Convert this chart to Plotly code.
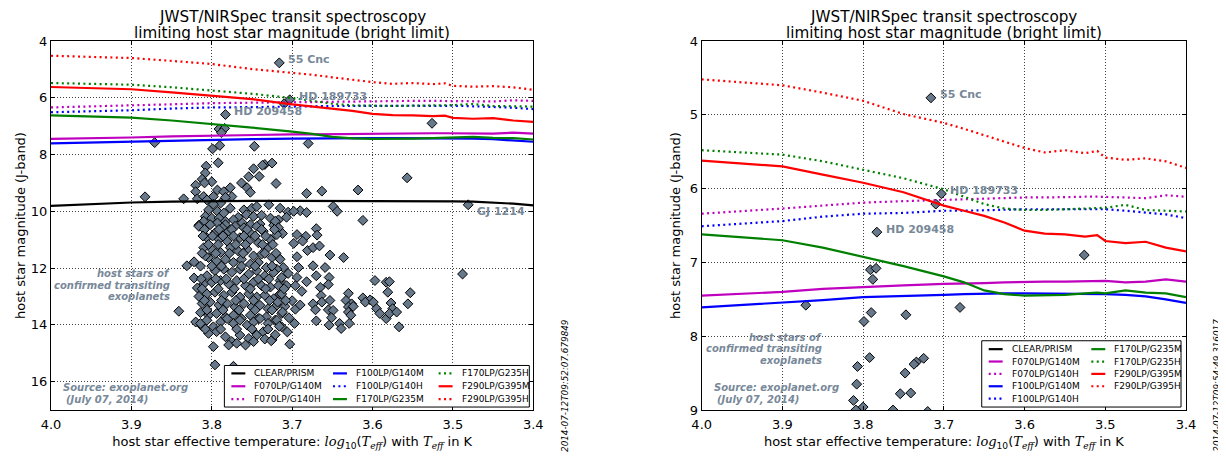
import plotly.graph_objects as go

# ---------------- data ----------------
model_logteff = [4.000, 3.950, 3.900, 3.850, 3.800, 3.750, 3.700, 3.675, 3.650, 3.625,
                 3.600, 3.575, 3.550, 3.525, 3.510, 3.500, 3.475, 3.450, 3.425, 3.400]

clear_prism   = [9.81, 9.75, 9.69, 9.66, 9.64, 9.63, 9.63, 9.63, 9.64, 9.64,
                 9.65, 9.65, 9.65, 9.65, 9.65, 9.65, 9.66, 9.69, 9.73, 9.79]
f070_g140m    = [7.45, 7.43, 7.40, 7.36, 7.33, 7.31, 7.29, 7.29, 7.28, 7.27,
                 7.26, 7.26, 7.26, 7.25, 7.25, 7.25, 7.27, 7.26, 7.23, 7.26]
f070_g140h    = [6.34, 6.31, 6.27, 6.23, 6.19, 6.17, 6.15, 6.14, 6.13, 6.13,
                 6.12, 6.12, 6.11, 6.11, 6.11, 6.11, 6.12, 6.13, 6.09, 6.11]
f100_g140m    = [7.61, 7.58, 7.55, 7.51, 7.47, 7.46, 7.44, 7.43, 7.42, 7.42,
                 7.42, 7.42, 7.42, 7.43, 7.43, 7.43, 7.44, 7.46, 7.50, 7.55]
f100_g140h    = [6.51, 6.48, 6.44, 6.38, 6.34, 6.33, 6.30, 6.30, 6.29, 6.29,
                 6.28, 6.28, 6.28, 6.29, 6.28, 6.28, 6.30, 6.32, 6.35, 6.40]
f170_g235m    = [6.62, 6.66, 6.70, 6.80, 6.92, 7.05, 7.19, 7.27, 7.38, 7.43,
                 7.45, 7.45, 7.44, 7.42, 7.41, 7.42, 7.38, 7.41, 7.42, 7.47]
f170_g235h    = [5.48, 5.51, 5.54, 5.63, 5.74, 5.86, 6.01, 6.11, 6.21, 6.27,
                 6.29, 6.29, 6.28, 6.27, 6.26, 6.26, 6.22, 6.29, 6.30, 6.31]
f290_g395m    = [5.62, 5.66, 5.70, 5.81, 5.92, 6.05, 6.23, 6.30, 6.37, 6.46,
                 6.57, 6.61, 6.62, 6.65, 6.63, 6.71, 6.74, 6.72, 6.80, 6.85]
f290_g395h    = [4.52, 4.56, 4.60, 4.70, 4.81, 4.99, 5.11, 5.19, 5.28, 5.37,
                 5.45, 5.51, 5.48, 5.52, 5.49, 5.58, 5.61, 5.59, 5.63, 5.72]

mode_names = ["CLEAR/PRISM", "F070LP/G140M", "F070LP/G140H", "F100LP/G140M", "F100LP/G140H",
              "F170LP/G235M", "F170LP/G235H", "F290LP/G395M", "F290LP/G395H"]
mode_values = [clear_prism, f070_g140m, f070_g140h, f100_g140m, f100_g140h,
               f170_g235m, f170_g235h, f290_g395m, f290_g395h]

# host stars of confirmed transiting exoplanets (log10 Teff, J magnitude)
star_logteff = [
    3.716, 3.703, 3.710, 3.783, 3.526, 3.871, 3.680,
    3.791, 3.784, 3.788, 3.790, 3.799, 3.747,
    3.792, 3.807, 3.734, 3.737, 3.725, 3.748, 3.808,
    3.754, 3.741, 3.812, 3.800, 3.809, 3.763, 3.720, 3.557,
    3.883, 3.820, 3.820, 3.835, 3.818, 3.793, 3.785, 3.777, 3.775, 3.783, 3.798, 3.810,
    3.806, 3.789, 3.798, 3.777, 3.804, 3.793, 3.785, 3.808, 3.800, 3.791, 3.810, 3.816,
    3.793, 3.783,
    3.756, 3.752, 3.760, 3.750, 3.744, 3.729, 3.715, 3.767, 3.757, 3.748, 3.738, 3.727,
    3.717, 3.762, 3.752, 3.740, 3.723, 3.783, 3.773,
    3.682, 3.663, 3.618, 3.481, 3.705, 3.690, 3.682, 3.698, 3.649, 3.644, 3.612, 3.721,
    3.707, 3.712, 3.670, 3.694, 3.683, 3.669, 3.698, 3.687, 3.681, 3.674, 3.666, 3.653,
    3.636, 3.694, 3.717, 3.711, 3.692, 3.674, 3.659, 3.654, 3.670, 3.682, 3.694, 3.705,
    3.715, 3.707, 3.696, 3.715, 3.688, 3.665, 3.655, 3.664, 3.674, 3.663, 3.653, 3.671,
    3.655, 3.649, 3.670, 3.654, 3.651, 3.630, 3.633, 3.626, 3.630, 3.624, 3.630, 3.627,
    3.641, 3.639, 3.629, 3.612, 3.603, 3.609, 3.597, 3.583, 3.579, 3.581, 3.599, 3.595,
    3.591, 3.583, 3.577, 3.575, 3.579, 3.570, 3.556, 3.553, 3.567, 3.488,
    3.816, 3.802, 3.796, 3.787, 3.779, 3.771, 3.760, 3.752, 3.744, 3.736, 3.727, 3.717,
    3.806, 3.791, 3.781, 3.765, 3.754, 3.742, 3.730, 3.719,
    3.810, 3.800, 3.789, 3.777, 3.767, 3.756, 3.748, 3.738, 3.725, 3.715,
    3.804, 3.794, 3.783, 3.773, 3.763, 3.752, 3.742, 3.732, 3.719, 3.831, 3.822, 3.808,
    3.806, 3.796, 3.785, 3.775, 3.765, 3.754, 3.744, 3.734, 3.723, 3.713,
    3.810, 3.800, 3.789, 3.779, 3.769, 3.758, 3.748, 3.738, 3.727, 3.717,
    3.806, 3.796, 3.785, 3.775, 3.765, 3.754, 3.744, 3.734, 3.723, 3.713,
    3.812, 3.802, 3.791, 3.781, 3.771, 3.760, 3.750, 3.740, 3.730, 3.719,
    3.841, 3.814, 3.804, 3.794, 3.783, 3.773, 3.763, 3.752, 3.742, 3.732, 3.721, 3.713,
    3.822, 3.818, 3.816, 3.820, 3.812,
    3.814, 3.806, 3.798, 3.789, 3.781, 3.773, 3.765, 3.756, 3.748, 3.740, 3.730, 3.719,
    3.713, 3.804, 3.794, 3.783, 3.775, 3.765, 3.754, 3.744, 3.736, 3.725,
    3.798, 3.779, 3.769, 3.758, 3.748, 3.796, 3.773,
    3.734, 3.726, 3.703, 3.718, 3.709, 3.700, 3.712, 3.704, 3.696, 3.716, 3.706, 3.697,
    3.721, 3.690,
    3.809, 3.791, 3.775, 3.756, 3.738, 3.722,
    3.811, 3.799, 3.786, 3.773, 3.760, 3.746, 3.733,
    3.804, 3.792, 3.770, 3.758, 3.737, 3.724,
    3.812, 3.795, 3.778, 3.761, 3.734, 3.720,
    3.814, 3.800, 3.788, 3.763, 3.746, 3.725,
    3.813, 3.795, 3.782, 3.760, 3.742, 3.729,
    3.812, 3.792, 3.772, 3.752, 3.733, 3.710,
    3.809, 3.788, 3.770, 3.748, 3.728, 3.708,
    3.806, 3.786, 3.766, 3.746, 3.725,
    3.808, 3.789, 3.769, 3.750, 3.730,
]
star_jmag = [
    4.77, 6.07, 6.21, 6.59, 6.90, 7.58, 7.61,
    7.10, 7.08, 7.23, 7.68, 7.80, 7.71,
    8.29, 8.41, 8.35, 8.38, 8.30, 8.50, 8.65,
    8.78, 8.77, 8.87, 8.96, 9.00, 9.00, 9.02, 8.82,
    9.49, 9.08, 9.31, 9.56, 9.56, 9.25, 9.31, 9.17, 9.48, 9.51, 9.48, 9.48,
    9.60, 9.71, 9.75, 9.89, 9.95, 10.00, 10.06, 10.18, 10.24, 10.24, 10.35, 10.49,
    10.41, 10.35,
    9.17, 9.33, 9.95, 9.89, 9.83, 9.77, 9.89, 10.21, 10.12, 10.18, 10.14, 10.24,
    10.30, 10.41, 10.47, 10.45, 10.49, 10.47, 10.30,
    9.37, 9.29, 9.25, 9.77, 10.03, 9.98, 10.04, 10.00, 9.83, 10.00, 10.32, 10.35,
    10.21, 10.78, 10.61, 10.82, 10.88, 10.84, 11.13, 11.05, 11.38, 11.28, 11.22, 11.54,
    11.63, 11.60, 11.63, 11.98, 11.98, 11.92, 11.98, 12.33, 12.27, 12.48, 12.33, 12.19,
    12.44, 12.62, 12.62, 12.91, 12.82, 12.68, 12.58, 12.97, 13.26, 13.20, 13.14, 13.47,
    13.47, 13.49, 13.86, 14.01, 13.75, 12.89, 13.14, 13.26, 13.37, 13.35, 13.55, 13.66,
    13.95, 14.13, 13.95, 13.05, 13.12, 13.20, 12.44, 12.50, 12.48, 12.85, 13.20, 13.43,
    13.60, 13.78, 13.23, 13.43, 13.60, 13.55, 13.26, 12.87, 14.07, 12.21,
    10.53, 10.47, 10.76, 10.58, 10.70, 10.53, 10.58, 10.76, 10.53, 10.70, 10.99, 10.58,
    10.93, 10.99, 11.05, 10.93, 11.05, 11.11, 11.28, 10.82,
    11.28, 11.34, 11.45, 11.28, 11.40, 11.34, 11.57, 11.51, 11.63, 11.69,
    11.63, 11.75, 11.69, 11.80, 11.69, 11.86, 11.80, 11.98, 12.04, 11.92, 11.78, 11.57,
    12.27, 12.09, 12.04, 12.15, 12.04, 12.21, 12.09, 12.27, 12.15, 12.33,
    12.56, 12.50, 12.44, 12.56, 12.44, 12.62, 12.50, 12.62, 12.67, 12.62,
    12.91, 12.85, 12.96, 12.85, 13.02, 12.91, 13.02, 12.96, 13.08, 12.91,
    13.25, 13.20, 13.31, 13.25, 13.37, 13.25, 13.37, 13.31, 13.43, 13.31,
    13.52, 13.57, 13.66, 13.60, 13.72, 13.66, 13.78, 13.66, 13.78, 13.72, 13.83, 13.60,
    12.35, 12.70, 13.00, 13.90, 14.05,
    13.95, 13.84, 14.07, 13.90, 13.78, 13.95, 13.84, 14.01, 13.90, 13.78, 13.95, 13.84,
    14.07, 14.30, 14.24, 14.42, 14.59, 14.36, 14.48, 14.36, 14.24, 14.53,
    14.77, 14.71, 14.65, 14.71, 14.59, 15.41, 15.46,
    14.50, 14.56, 14.68, 13.20, 13.35, 13.15, 13.55, 13.75, 13.45, 14.05, 14.25, 13.95,
    14.35, 13.30,
    10.64, 10.64, 10.64, 10.64, 10.64, 10.64,
    10.87, 10.87, 10.87, 10.87, 10.87, 10.87, 10.87,
    11.17, 11.17, 11.17, 11.17, 11.17, 11.17,
    11.48, 11.48, 11.48, 11.48, 11.48, 11.48,
    11.93, 11.93, 11.93, 11.93, 11.93, 11.93,
    12.38, 12.38, 12.38, 12.38, 12.38, 12.38,
    12.73, 12.73, 12.73, 12.73, 12.73, 12.73,
    13.14, 13.14, 13.14, 13.14, 13.14, 13.14,
    13.48, 13.48, 13.48, 13.48, 13.48,
    14.15, 14.15, 14.15, 14.15, 14.15,
]

named_stars = ["55 Cnc", "HD 189733", "HD 209458", "GJ 1214"]
named_logteff = [3.716, 3.703, 3.783, 3.481]
named_jmag = [4.77, 6.07, 6.59, 9.77]
named_label_dy = [3, 3, 3, -7]

xticks = [4.0, 3.9, 3.8, 3.7, 3.6, 3.5, 3.4]
yticks_left = [4, 6, 8, 10, 12, 14, 16]
yticks_right = [4, 5, 6, 7, 8, 9]

# ---------------- style ----------------
# the page body keeps the browser's default 8px margin, so the figure is drawn
# 8px in from the top-left corner of the window
PAGE_OFF = 8
W, H = 1226 - PAGE_OFF, 459 - PAGE_OFF
ML, MR, MT, MB = 47 - PAGE_OFF, 40, 41 - PAGE_OFF, 45
PW, PH = W - ML - MR, H - MT - MB
FONT = "DejaVu Sans"
mode_colors = ["#000000", "#bf00bf", "#bf00bf", "#0000ff", "#0000ff",
               "#008000", "#008000", "#ff0000", "#ff0000"]
DOT = "2px,3.4px"
mode_dash = ["solid", "solid", DOT, "solid", DOT, "solid", DOT, "solid", DOT]
LABEL_COLOR = "#778899"
STAR_FILL = "#67788a"


def fx(px):  # window pixel -> paper fraction
    return (px - PAGE_OFF - ML) / PW


def fy(py):
    return (PAGE_OFF + H - MB - py) / PH


fig = go.Figure()

for xa, ya in [("x", "y"), ("x2", "y2")]:
    fig.add_trace(go.Scatter(
        x=star_logteff, y=star_jmag, mode="markers", xaxis=xa, yaxis=ya,
        showlegend=False, name="host stars",
        marker=dict(symbol="diamond", size=7.6, color=STAR_FILL,
                    line=dict(color="#000000", width=1)),
    ))
    for name, vals, col, dash in zip(mode_names, mode_values, mode_colors, mode_dash):
        fig.add_trace(go.Scatter(
            x=model_logteff, y=vals, mode="lines", xaxis=xa, yaxis=ya, name=name,
            showlegend=False, line=dict(color=col, width=2.2, dash=dash),
        ))

axis_common = dict(
    showline=True, linecolor="#000000", linewidth=1, mirror="ticks",
    ticks="inside", ticklen=4, tickwidth=1, tickcolor="#000000",
    showgrid=True, gridcolor="rgba(0,0,0,0.75)", gridwidth=1, griddash="1px,2px",
    zeroline=False, tickfont=dict(family=FONT, size=13, color="#000000"),
)

xtitle = ("host star effective temperature: "
          "<i><span style='font-family:DejaVu Serif'>log</span></i><sub>10</sub>"
          "(<i><span style='font-family:DejaVu Serif'>T</span></i>"
          "<sub><i><span style='font-family:DejaVu Serif'>eff</span></i></sub>) with "
          "<i><span style='font-family:DejaVu Serif'>T</span></i>"
          "<sub><i><span style='font-family:DejaVu Serif'>eff</span></i></sub> in K")

fig.update_layout(
    width=W, height=H, margin=dict(l=ML, r=MR, t=MT, b=MB),
    paper_bgcolor="white", plot_bgcolor="white",
    font=dict(family=FONT, size=13, color="#000000"),
    showlegend=False,
    xaxis=dict(domain=[0, fx(531)], range=[4.0, 3.4], tickvals=xticks, tickformat=".1f",
               anchor="y", ticklabelstandoff=2,
               title=dict(text=xtitle, standoff=6, font=dict(size=13)),
               **axis_common),
    yaxis=dict(domain=[0, 1], range=[17, 4], tickvals=yticks_left, anchor="x",
               title=dict(text="host star magnitude (J-band)", standoff=2, font=dict(size=13)),
               **axis_common),
    xaxis2=dict(domain=[fx(700), 1], range=[4.0, 3.4], tickvals=xticks, tickformat=".1f",
                anchor="y2", ticklabelstandoff=2,
                title=dict(text=xtitle, standoff=6, font=dict(size=13)),
                **axis_common),
    yaxis2=dict(domain=[0, 1], range=[9, 4], tickvals=yticks_right, anchor="x2",
                title=dict(text="host star magnitude (J-band)", standoff=6, font=dict(size=13)),
                **axis_common),
)

annotations = []
shapes = []

# titles
for cx in [(47 + 531) / 2, (700 + 1186) / 2]:
    annotations.append(dict(text="JWST/NIRSpec transit spectroscopy", xref="paper", yref="paper",
                            x=fx(cx), y=fy(17), xanchor="center", yanchor="middle",
                            showarrow=False, font=dict(size=15.2, color="#000000")))
    annotations.append(dict(text="limiting host star magnitude (bright limit)", xref="paper",
                            yref="paper", x=fx(cx), y=fy(33), xanchor="center",
                            yanchor="middle", showarrow=False,
                            font=dict(size=15.2, color="#000000")))

# star names
for axn, (xr, yr) in enumerate([("x", "y"), ("x2", "y2")]):
    for nm, lx, ly, dy in zip(named_stars, named_logteff, named_jmag, named_label_dy):
        if axn == 1 and ly > 9:
            continue
        annotations.append(dict(text="<b>%s</b>" % nm, xref=xr, yref=yr, x=lx, y=ly,
                                xanchor="left", yanchor="middle", xshift=7, yshift=dy,
                                showarrow=False, font=dict(size=11, color=LABEL_COLOR)))

# explanatory text
host_text = ["host stars of", "confirmed transiting", "exoplanets"]
for xr, yr, ys in [("x", "y", [12.20, 12.60, 13.01]), ("x2", "y2", [8.02, 8.17, 8.33])]:
    for t, yy in zip(host_text, ys):
        annotations.append(dict(text="<b><i>%s</i></b>" % t, xref=xr, yref=yr, x=3.849, y=yy,
                                xanchor="right", yanchor="middle", showarrow=False,
                                font=dict(size=10, color=LABEL_COLOR)))
source_text = ["Source: exoplanet.org", "(July 07, 2014)"]
for x0 in [47, 700]:
    for t, dx, py in zip(source_text, [10, 13], [391.7, 403.3]):
        annotations.append(dict(text="<b><i>%s</i></b>" % t, xref="paper", yref="paper",
                                x=fx(x0 + dx), y=fy(py), xanchor="left", yanchor="middle",
                                showarrow=False, font=dict(size=10, color=LABEL_COLOR)))

# time stamps
for t, px in [("2014-07-12T09:52:07.679849", 563.5), ("2014-07-12T09:54:49.316017", 1217.5)]:
    annotations.append(dict(text="<i>%s</i>" % t, xref="paper", yref="paper",
                            x=fx(px), y=fy(389), xanchor="center", yanchor="middle",
                            textangle=-90, showarrow=False,
                            font=dict(size=8.8, color="#000000")))

# legends (matplotlib-style, column-major)
legend_specs = [
    dict(box=(221, 527, 369, 411), nrow=3, sx=[228, 330, 436], y0=377, dy=13),
    dict(box=(981, 1181, 344, 411), nrow=5, sx=[988, 1091], y0=352.5, dy=12.5),
]
for spec in legend_specs:
    bx0, bx1, by0, by1 = spec["box"]
    shapes.append(dict(type="rect", xref="paper", yref="paper", x0=fx(bx0), x1=fx(bx1),
                       y0=fy(by1), y1=fy(by0), fillcolor="white",
                       line=dict(color="#000000", width=1), layer="above"))
    for i, (name, col, dash) in enumerate(zip(mode_names, mode_colors, mode_dash)):
        c, r = divmod(i, spec["nrow"])
        sx = spec["sx"][c]
        yy = spec["y0"] + r * spec["dy"]
        shapes.append(dict(type="line", xref="paper", yref="paper", x0=fx(sx), x1=fx(sx + 14),
                           y0=fy(yy), y1=fy(yy), line=dict(color=col, width=2.2, dash=dash),
                           layer="above"))
        annotations.append(dict(text=name, xref="paper", yref="paper", x=fx(sx + 21), y=fy(yy),
                                xanchor="left", yanchor="middle", showarrow=False,
                                font=dict(size=9, color="#000000")))

fig.update_layout(annotations=annotations, shapes=shapes)
fig.write_html("out.html")
